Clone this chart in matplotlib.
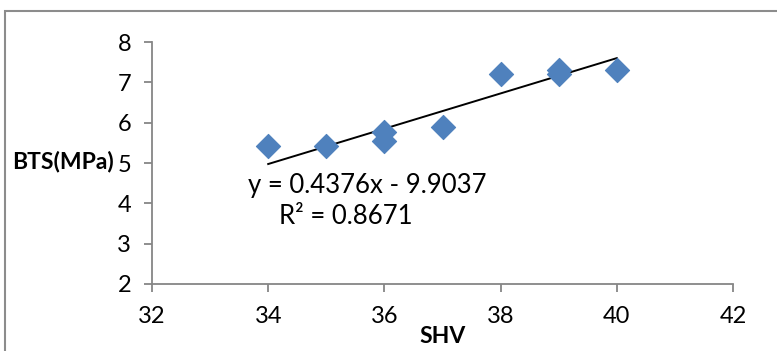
import matplotlib
matplotlib.use("Agg")
import matplotlib.pyplot as plt
from matplotlib.patches import Rectangle
import numpy as np

plt.rcParams['font.family'] = ['Lato', 'DejaVu Sans']

# Data
shv = [34, 35, 36, 36, 37, 38, 39, 39, 40]
bts = [5.43, 5.43, 5.76, 5.55, 5.89, 7.20, 7.30, 7.20, 7.30]
slope = 0.4376
intercept = -9.9037
r2 = 0.8671
x_ticks = [32, 34, 36, 38, 40, 42]
y_ticks = [2, 3, 4, 5, 6, 7, 8]

W, H = 777, 351
fig = plt.figure(figsize=(W / 100, H / 100), dpi=100)

def fx(px):
    return px / W

def fy(py):
    return 1 - py / H

ax = fig.add_axes([fx(152), fy(284), fx(733) - fx(152), fy(42) - fy(284)])

grey = '#868686'
blue = '#4F81BD'

ax.scatter(shv, bts, marker='D', s=12.3 ** 2, color=blue, edgecolors=blue, linewidths=0.8, zorder=3)

xl = np.array([min(shv), max(shv)])
ax.plot(xl, slope * xl + intercept, color='black', lw=1.4, zorder=2)

ax.set_xlim(32, 42)
ax.set_ylim(2, 8)
ax.set_xticks(x_ticks)
ax.set_yticks(y_ticks)
ax.set_xticklabels([str(v) for v in x_ticks])
ax.set_yticklabels([str(v) for v in y_ticks])

for s in ['top', 'right']:
    ax.spines[s].set_visible(False)
for s in ['left', 'bottom']:
    ax.spines[s].set_color(grey)
    ax.spines[s].set_linewidth(1.3)

ax.tick_params(axis='both', direction='out', length=6, width=1.3, color=grey,
               labelsize=17, labelcolor='black')
ax.tick_params(axis='x', pad=10)
ax.tick_params(axis='y', pad=9)

ax.set_xlabel('SHV', fontsize=16.5, fontweight='bold', labelpad=-1)

fig.text(fx(114), fy(162), 'BTS(MPa)', fontsize=16.5, fontweight='bold',
         ha='right', va='center')

fig.text(fx(367), fy(186), 'y = 0.4376x - 9.9037', fontsize=18.5, ha='center', va='center')
fig.text(fx(346), fy(217), 'R\u00b2 = 0.8671', fontsize=18.5, ha='center', va='center')

# Outer chart border
fig.patches.append(Rectangle((fx(5), fy(360)), 1.2, fy(11) - fy(360),
                             transform=fig.transFigure, fill=False,
                             edgecolor='#8c8c8c', lw=1.5))

fig.savefig('out.png', dpi=100)
